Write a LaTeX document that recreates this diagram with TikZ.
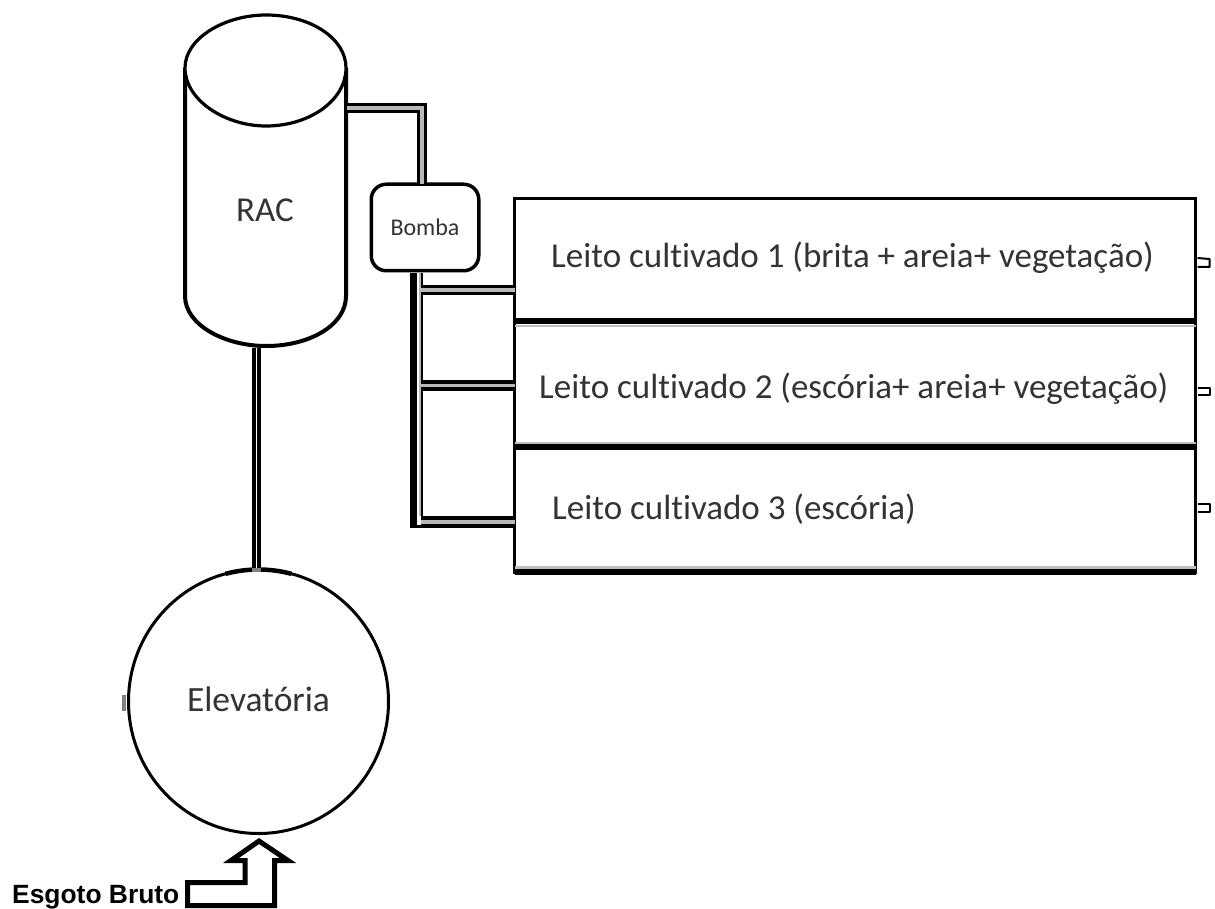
\documentclass[tikz,border=0pt]{standalone}
\usepackage{fontspec}
\usetikzlibrary{shapes.geometric}
\setmainfont{Carlito}[Ligatures=NoCommon]
\newfontfamily\arialf{Liberation Sans}
\definecolor{txt}{gray}{0.2}
\definecolor{pipegrey}{gray}{0.72}
\tikzset{
  x=1pt,y=-1pt,
  bed/.style={draw=black,line width=3pt,fill=white,inner sep=0,outer sep=0,anchor=north west},
  lbl/.style={text=txt,inner sep=0,anchor=base west,font=\fontsize{35}{35}\selectfont},
  pipe/.style={draw=black,line width=3.6pt,double=pipegrey,double distance=3.6pt,line join=miter},
  vpipe/.style={draw=black,line width=4pt,double=white,double distance=1pt},
  sep/.style={draw=black,line width=6pt},
  sepgrey/.style={draw=gray!50,line width=2.5pt},
  stub/.style={draw=black,line width=2pt,line join=round}
}
\begin{document}
\begin{tikzpicture}
\useasboundingbox (0,0) rectangle (1215,909);
% beds
\node[bed,minimum width=681pt,minimum height=122.75pt] (leito1) at (514.5,198.5) {};
\node[bed,minimum width=681pt,minimum height=126.5pt] (leito2) at (514.5,320.75) {};
\node[bed,minimum width=681pt,minimum height=124.75pt] (leito3) at (514.5,447.25) {};
\draw[sepgrey] ([yshift=-4.5pt]leito1.south west) -- ([yshift=-4.5pt]leito1.south east);
\draw[sepgrey] ([yshift=4.5pt]leito2.south west) -- ([yshift=4.5pt]leito2.south east);
\draw[sepgrey] ([yshift=4.5pt]leito3.south west) -- ([yshift=4.5pt]leito3.south east);
\draw[sep] (leito1.south west) -- (leito1.south east);
\draw[sep] (leito2.south west) -- (leito2.south east);
\draw[sep] (leito3.south west) -- (leito3.south east);
% RAC
\coordinate (racE) at (347,108);
\draw[black,line width=4pt,fill=white] (185,68) -- (185,296) .. controls (185,325) and (225,346) .. (266,346) .. controls (310,346) and (346,325) .. (346,296) -- (346,68);
\draw[black,line width=3.2pt,fill=white] (185,68) .. controls (185,38) and (225,15) .. (266,15) .. controls (310,15) and (346,38) .. (346,68) .. controls (346,100) and (310,126) .. (266,126) .. controls (225,126) and (185,100) .. (185,68) -- cycle;
\node[text=txt,inner sep=0,font=\fontsize{35}{35}\selectfont] (rac) at (265,210.5) {RAC};
% Bomba
\node[draw=black,line width=3.5pt,rounded corners=15pt,fill=white,minimum width=107.5pt,minimum height=86.5pt,inner sep=0,outer sep=0,text=txt,font=\fontsize{24}{24}\selectfont] (bomba) at (425,227.5) {\raisebox{1.5pt}{Bomba}};
% Elevatoria
\node[ellipse,draw=black,line width=3pt,fill=white,minimum width=260pt,minimum height=264pt,inner sep=0,outer sep=0,text=txt,font=\fontsize{35.5}{35.5}\selectfont] (elev) at (258.5,701.5) {\raisebox{4pt}{Elevatória}};
\fill[gray] (122,695) rectangle (126,711);
\draw[black,line width=4.5pt] (elev.center) ++(104.7:130pt and 132pt) arc[start angle=104.7,end angle=75.3,x radius=130pt,y radius=132pt];
% RAC to elevatoria
\draw[vpipe] (256.5,348) -- (elev.north -| 256.5,0);
\draw[gray,line width=4pt] (252,570) -- (261,570);
% RAC to bomba
\draw[pipe] (racE) -| ([xshift=-3pt]bomba.north);
% trunk
\coordinate (tap0) at (413.5,273);
\coordinate (tap1) at (421,290);
\coordinate (tap2) at (421,385.5);
\coordinate (tap3) at (421,522);
\draw[black,line width=7pt] (tap0) -- (413.5,528);
\draw[black,line width=2.5pt] (422,273) -- (422,528);
\draw[pipegrey,line width=1.5pt] (420,273) -- (420,516);
\draw[pipe] (tap1) -- (tap1 -| leito1.west);
\draw[pipe,line width=3.5pt,double distance=3.5pt] (tap2) -- (tap2 -| leito2.west);
\draw[pipe,line width=3.8pt,double distance=4.5pt] (tap3) -- (tap3 -| leito3.west);
\draw[black,line width=3pt] (410,526.5) -- (leito3.west |- 0,526.5);
% stubs
\coordinate (o1) at (leito1.east |- 0,258);
\coordinate (o2) at (leito2.east |- 0,388);
\coordinate (o3) at (leito3.east |- 0,504);
\draw[stub] ([xshift=2pt]o1) -- ++(12,1) -- ++(0,8) -- ++(-12,0);
\draw[stub] ([xshift=2pt]o2) -- ++(12,0) -- ++(0,7) -- ++(-12,0);
\draw[stub] ([xshift=2pt]o3) -- ++(12,0) -- ++(0,8) -- ++(-12,0);
% labels
\node[lbl] (l1) at (551,268) {Leito cultivado 1 (brita + areia+ vegetação)};
\node[lbl] (l2) at (539,398) {Leito cultivado 2 (escória+ areia+ vegetação)};
\node[lbl] (l3) at (552,519) {Leito cultivado 3 (escória)};
% arrow
\draw[black,line width=5pt,line join=miter,miter limit=10] (259,841) -- (288,860.5) -- (274.5,860.5) -- (274.5,905.5) -- (187.5,905.5) -- (187.5,882.5) -- (245,882.5) -- (245,860.5) -- (231,860.5) -- cycle;
\node[inner sep=0,anchor=base west,font=\arialf\bfseries\fontsize{26.4}{26.4}\selectfont] (eb) at (12,903) {Esgoto Bruto};
\end{tikzpicture}
\end{document}
